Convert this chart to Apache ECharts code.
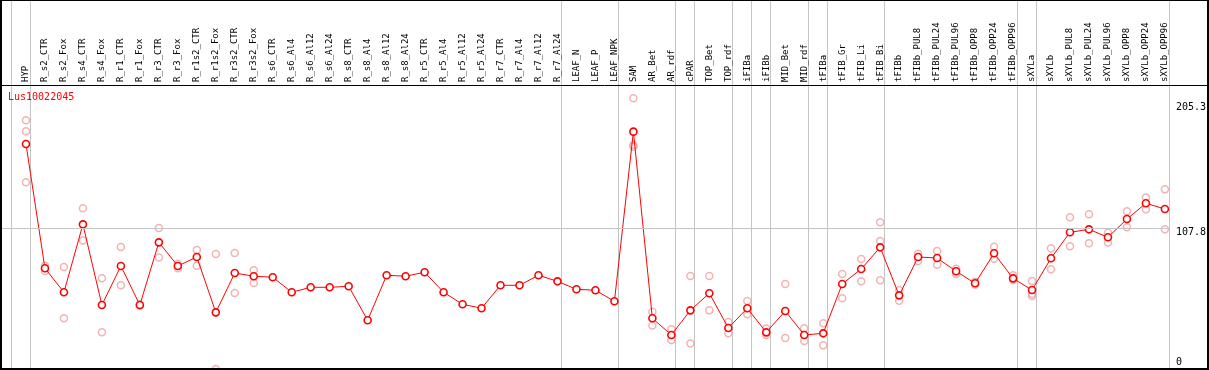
<!DOCTYPE html>
<html><head><meta charset="utf-8">
<script src="https://cdn.jsdelivr.net/npm/echarts@6/dist/echarts.min.js"></script>
<style>html,body{margin:0;padding:0;background:#fff}#c{width:1209px;height:370px}</style>
</head><body><div id="c"></div>
<script>
const geneName = 'Lus10022045';
const categories = ['HYP','R_s2_CTR','R_s2_Fox','R_s4_CTR','R_s4_Fox','R_r1_CTR','R_r1_Fox','R_r3_CTR','R_r3_Fox',
  'R_r1s2_CTR','R_r1s2_Fox','R_r3s2_CTR','R_r3s2_Fox','R_s6_CTR','R_s6_Al4','R_s6_Al12','R_s6_Al24','R_s8_CTR',
  'R_s8_Al4','R_s8_Al12','R_s8_Al24','R_r5_CTR','R_r5_Al4','R_r5_Al12','R_r5_Al24','R_r7_CTR','R_r7_Al4','R_r7_Al12',
  'R_r7_Al24','LEAF_N','LEAF_P','LEAF_NPK','SAM','AR_Bet','AR_rdf','cPAR','TOP_Bet','TOP_rdf','iFIBa','iFIBb',
  'MID_Bet','MID_rdf','tFIBa','tFIB_Gr','tFIB_Li','tFIB_Bi','tFIBb','tFIBb_PUL8','tFIBb_PUL24','tFIBb_PUL96',
  'tFIBb_OPP8','tFIBb_OPP24','tFIBb_OPP96','sXYLa','sXYLb','sXYLb_PUL8','sXYLb_PUL24','sXYLb_PUL96','sXYLb_OPP8',
  'sXYLb_OPP24','sXYLb_OPP96'];
const means = [175.7,75.5,56.2,110.9,45.9,77.4,45.9,96.4,77.4,84.6,40.0,71.7,69.1,68.3,56.2,60.2,60.2,61.0,33.6,69.9,
  69.1,72.3,56.2,46.5,43.3,61.8,61.8,69.9,65.0,58.6,57.8,48.9,185.6,35.2,21.8,41.6,55.4,27.4,43.3,23.9,41.1,21.8,
  23.1,62.9,74.9,92.4,53.7,84.6,83.8,73.1,63.4,87.6,67.4,58.0,83.6,104.5,106.9,100.5,115.2,127.9,123.3];
const replicates = [
  [194.7,185.9,144.8],[77.5,73.3],[76.5,35.2],[123.8,98.0],[67.4,23.9],[92.7,61.8],[46.5,45.3],[108.0,84.3],[79.2,75.5],
  [90.2,77.6],[87.0,-5.6],[87.8,55.6],[73.9,63.7],[],[],[],[],[],[],[],[],[],[],[],[],[],[],[],[],[],[],[],
  [212.5,174.9,173.5],[40.5,29.5],[26.3,17.7],[69.3,15.0],[69.3,41.6],[32.2,23.1],[49.2,38.4],[26.9,21.8],
  [62.9,19.3],[27.1,16.9],[31.2,13.4],[70.9,51.3],[83.0,65.0],[112.6,97.5,65.8],[58.0,49.4],[87.3,81.4],[89.4,78.4],
  [75.2,70.9],[64.7,62.3],[92.9,83.2],[69.9,66.1],[65.3,54.8,53.2],[91.6,74.7],[116.6,93.2],[119.0,95.7],[104.2,96.2],
  [121.4,108.5],[132.5,123.0],[139.1,106.9]];
const groupEnds = [-1,0,28,31,34,35,37,38,39,41,42,45,52,53,60];
const yTickValues = [0, 107.8, 205.3];
const refLine = 107.8;

const MONO = 'DejaVu Sans Mono';
const sepOffset = 0.21;
const xMin = -1.3158, xMax = 60.2105;
const yMin = -5.64, yMax = 223.2;

const meanData = means.map((v, i) => [i, v]);
const repData = [];
replicates.forEach((arr, i) => arr.forEach(v => repData.push([i, v])));

const chart = echarts.init(document.getElementById('c'), null, { renderer: 'canvas' });
const frame = [
  { type: 'rect', shape: { x: 1, y: 0, width: 1207, height: 369 }, style: { fill: 'none', stroke: '#000', lineWidth: 2 }, z: 100, silent: true },
  { type: 'line', shape: { x1: 0, y1: 85.5, x2: 1209, y2: 85.5 }, style: { stroke: '#000', lineWidth: 1 }, z: 100, silent: true }
];
chart.setOption({
  animation: false,
  title: { text: geneName, left: 8, top: 92, padding: 0,
    textStyle: { color: '#ff0000', fontSize: 10, fontFamily: MONO, fontWeight: 'normal' } },
  grid: [{ left: 1, right: 38, top: 85, bottom: 1 }],
  xAxis: [
    { type: 'value', min: xMin, max: xMax, position: 'top',
      axisLine: { show: false }, axisTick: { show: false }, splitLine: { show: false },
      axisLabel: { customValues: categories.map((_, i) => i), formatter: v => categories[Math.round(v)],
        rotate: 90, margin: 3, fontSize: 9, fontFamily: MONO, color: '#000', hideOverlap: false } }
  ],
  yAxis: [
    { type: 'value', min: yMin, max: yMax, position: 'right',
      axisLine: { show: false }, axisTick: { show: false }, splitLine: { show: false },
      axisLabel: { customValues: yTickValues, margin: 7, color: '#000', fontSize: 10, fontFamily: MONO,
        formatter: v => v === refLine ? '{d|' + v + '}' : String(v),
        rich: { d: { padding: [8, 0, 0, 0], fontSize: 10, fontFamily: MONO, color: '#000' } } } }
  ],
  series: [
    { type: 'scatter', data: repData, symbol: 'circle', symbolSize: 7, clip: false,
      itemStyle: { color: 'rgba(0,0,0,0)', borderColor: '#f0a0a0', borderWidth: 1.5 }, z: 3 },
    { type: 'line', data: meanData, symbol: 'circle', symbolSize: 7, showAllSymbol: true,
      lineStyle: { color: '#ff0000', width: 1 },
      itemStyle: { color: '#ffffff', borderColor: '#ff0000', borderWidth: 1.6 }, z: 4,
      markLine: { silent: true, symbol: 'none', label: { show: false },
        lineStyle: { color: '#c4c4c4', width: 1, type: 'solid' }, data: [{ yAxis: refLine }] } }
  ],
  graphic: frame
});

// group separators, positioned through the x axis scale
const seps = groupEnds.map(e => {
  const px = Math.round(chart.convertToPixel({ xAxisIndex: 0 }, e + sepOffset)) + 0.5;
  return { type: 'line', shape: { x1: px, y1: 0, x2: px, y2: 369 }, style: { stroke: '#c4c4c4', lineWidth: 1 }, z: -10, silent: true };
});
chart.setOption({ graphic: frame.concat(seps) }, { replaceMerge: ['graphic'] });
</script></body></html>
